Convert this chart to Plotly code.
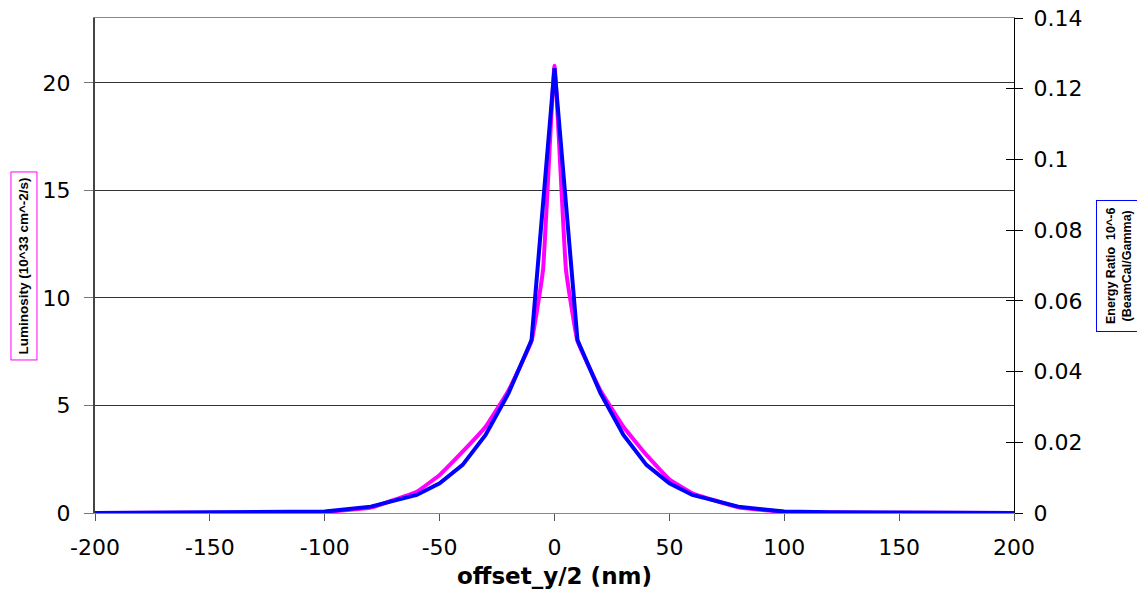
import plotly.graph_objects as go

# Luminosity (left axis, magenta)
x_lum = [-200, -160, -120, -100, -80, -60, -50, -40, -30, -20, -10, -5, 0,
         5, 10, 20, 30, 40, 50, 60, 80, 100, 120, 160, 200]
lum = [0.0, 0.01, 0.02, 0.05, 0.25, 0.99, 1.77, 2.85, 4.01, 5.7, 8.0, 11.3, 20.8,
       11.3, 8.0, 5.7, 4.01, 2.70, 1.57, 0.92, 0.27, 0.05, 0.02, 0.01, 0.0]

# Energy ratio (right axis, blue)
x_er = [-200, -160, -120, -100, -80, -60, -50, -40, -30, -20, -10, 0,
        10, 20, 30, 40, 50, 60, 80, 100, 120, 160, 200]
er = [0.0, 0.0001, 0.0002, 0.0004, 0.0018, 0.0051, 0.0084, 0.0136, 0.0221, 0.0339, 0.0489, 0.1258,
      0.0489, 0.0339, 0.0221, 0.0136, 0.0084, 0.0051, 0.0018, 0.0004, 0.0002, 0.0001, 0.0]

x_ticks = [-200, -150, -100, -50, 0, 50, 100, 150, 200]
left_ticks = [0, 5, 10, 15, 20]
right_ticks = [0, 0.02, 0.04, 0.06, 0.08, 0.1, 0.12, 0.14]

FONT = "DejaVu Sans"

fig = go.Figure()
fig.add_trace(go.Scatter(x=x_lum, y=lum, mode="lines", yaxis="y",
                         line=dict(color="#FF00FF", width=4, shape="spline", smoothing=0.3),
                         hoverinfo="skip"))
fig.add_trace(go.Scatter(x=x_er, y=er, mode="lines", yaxis="y2",
                         line=dict(color="#0000FF", width=4),
                         hoverinfo="skip"))
# invisible trace to activate yaxis3 (cross ticks)
fig.add_trace(go.Scatter(x=[None], y=[None], yaxis="y3", showlegend=False, hoverinfo="skip"))

# the page body has an 8px margin, so the figure is sized/offset accordingly
fig.update_layout(
    width=1137, height=587,
    margin=dict(l=87, r=131, t=10, b=82, autoexpand=False),
    paper_bgcolor="white", plot_bgcolor="white",
    showlegend=False,
    font=dict(family=FONT, size=22, color="black"),
    xaxis=dict(range=[-200, 200], tickvals=x_ticks, ticktext=[str(v) for v in x_ticks],
               automargin=False, ticklabeloverflow="allow",
               showgrid=False, zeroline=False, showline=True, linecolor="#888888",
               linewidth=1, mirror=True, ticks="outside", ticklen=7, tickcolor="#555555",
               ticklabelstandoff=8,
               title=dict(text="<b>offset_y/2 (nm)</b>", font=dict(family=FONT, size=23),
                          standoff=8)),
    yaxis=dict(range=[0, 23.02], tickvals=left_ticks, ticktext=[str(v) for v in left_ticks],
               automargin=False, ticklabeloverflow="allow",
               showgrid=True, gridcolor="#333333", gridwidth=1, zeroline=False,
               showline=True, linecolor="#444444", linewidth=2,
               ticks="outside", ticklen=9, tickcolor="#777777", ticklabelstandoff=9),
    yaxis2=dict(range=[0, 0.14], tickvals=right_ticks,
                ticktext=["0", "0.02", "0.04", "0.06", "0.08", "0.1", "0.12", "0.14"],
                automargin=False, ticklabeloverflow="allow",
                overlaying="y", side="right", showgrid=False, zeroline=False,
                showline=True, linecolor="black", linewidth=1,
                ticks="outside", ticklen=8, tickcolor="black", ticklabelstandoff=6),
    yaxis3=dict(range=[0, 0.14], tickvals=right_ticks, showticklabels=False,
                automargin=False,
                overlaying="y", side="right", showgrid=False, zeroline=False,
                showline=False, ticks="inside", ticklen=8, tickcolor="black"),
    annotations=[
        dict(text="<b>Luminosity (10^33 cm^-2/s)</b>", textangle=-90,
             xref="paper", yref="paper", x=-0.0773, y=0.5,
             xanchor="center", yanchor="middle", showarrow=False,
             font=dict(family="Liberation Sans", size=13.5, color="black"),
             bordercolor="#FF00FF", borderwidth=1, borderpad=5, bgcolor="white"),
        dict(text="<b>Energy Ratio  10^-6</b><br><b>(BeamCal/Gamma)</b>", textangle=-90,
             xref="paper", yref="paper", x=1.1137, y=0.5,
             xanchor="center", yanchor="middle", showarrow=False,
             font=dict(family="Liberation Sans", size=12.5, color="black"),
             bordercolor="#0000FF", borderwidth=1, borderpad=7, bgcolor="white"),
    ],
)

fig.write_html("out.html")
